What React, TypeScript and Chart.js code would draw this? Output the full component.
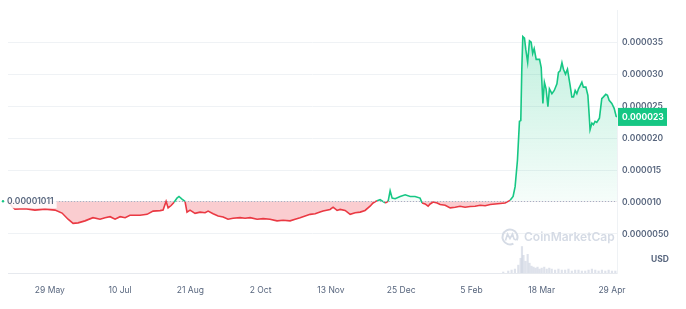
import React, { useEffect, useRef } from 'react';
import { Chart, registerables } from 'chart.js';

Chart.register(...registerables);

// Day offsets from 4 May 2023
const priceDays = [
  0, 2.4, 4.2, 10.2, 16.1, 22.1, 28.1, 32.3, 35.9, 38.9, 41.9, 46.0, 50.8, 55.0, 58.0, 61.0, 64.0, 67.0, 70.0, 72.9,
  78.9, 83.1, 86.7, 90.9, 92.7, 94.5, 95.7, 97.5, 99.3, 101.0, 102.2, 104.0, 105.8, 107.0, 108.8, 111.8, 114.8, 117.8,
  119.6, 122.6, 125.6, 128.6, 131.5, 134.5, 138.7, 141.7, 144.7, 148.9, 152.5, 156.6, 160.8, 164.4, 168.6, 171.6,
  174.6, 177.6, 180.6, 183.6, 186.5, 188.3, 192.5, 194.3, 196.7, 198.5, 201.5, 204.5, 207.5, 210.5, 213.4, 216.4,
  218.2, 220.6, 222.4, 225.4, 227.2, 228.4, 229.6, 231.4, 234.4, 237.4, 240.4, 243.3, 246.3, 247.5, 249.3, 251.1,
  252.3, 254.1, 256.5, 258.3, 261.3, 264.3, 267.3, 270.2, 273.2, 276.2, 279.2, 282.2, 285.2, 288.2, 294.2, 297.1,
  300.1, 301.9, 303.1, 304.5, 305.7, 306.5, 307.1, 307.7, 308.7, 309.5, 310.6, 311.7, 312.7, 313.6, 314.5, 315.7,
  317.7, 318.7, 319.7, 320.6, 321.6, 322.7, 323.6, 325.1, 326.5, 328.1, 329.0, 330.0, 331.1, 332.0, 333.2, 334.4,
  336.0, 337.0, 338.0, 339.0, 340.0, 341.0, 342.0, 343.0, 343.9, 345.4, 346.6, 347.3, 347.9, 349.0, 349.9, 350.9,
  351.9, 353.5, 354.9, 355.9, 357.3, 358.3, 359.3, 360.9, 362.3, 363.5, 364,
];

const prices = [
  10.11e-6, 9.3e-6, 8.88e-6, 8.96e-6, 8.73e-6, 8.88e-6, 8.73e-6, 8.27e-6, 7.31e-6, 6.66e-6, 6.74e-6, 7.05e-6, 7.55e-6,
  7.31e-6, 7.55e-6, 7.7e-6, 7.31e-6, 7.7e-6, 7.55e-6, 7.92e-6,
  7.92e-6, 8.07e-6, 8.58e-6, 8.65e-6, 8.73e-6, 10.11e-6, 9.08e-6, 9.45e-6, 9.95e-6, 10.61e-6, 10.87e-6, 10.46e-6,
  10.11e-6, 8.42e-6, 8.73e-6, 8.23e-6, 8.42e-6, 8.32e-6,
  8.58e-6, 8.16e-6, 7.81e-6, 7.66e-6, 7.31e-6, 7.46e-6, 7.55e-6, 7.46e-6, 7.55e-6, 7.31e-6, 7.4e-6, 7.31e-6, 7.05e-6,
  7.15e-6, 7.05e-6, 7.31e-6,
  7.55e-6, 7.81e-6, 8.07e-6, 8.16e-6, 8.42e-6, 8.58e-6, 8.84e-6, 9.19e-6, 8.68e-6, 8.84e-6, 8.68e-6, 8.07e-6, 8.32e-6,
  8.42e-6, 8.68e-6, 9.34e-6,
  9.85e-6, 10.21e-6, 10.37e-6, 9.85e-6, 10.11e-6, 11.74e-6, 10.61e-6, 10.52e-6, 10.87e-6, 11.13e-6, 10.87e-6,
  10.87e-6, 10.61e-6, 9.85e-6, 9.69e-6, 9.34e-6,
  9.69e-6, 10.0e-6, 9.85e-6, 9.6e-6, 9.5e-6, 9.08e-6, 9.19e-6, 9.34e-6, 9.19e-6, 9.3e-6, 9.34e-6, 9.5e-6, 9.42e-6,
  9.6e-6, 9.76e-6, 9.85e-6,
  10.26e-6, 10.87e-6, 12.4e-6, 16.53e-6, 22.61e-6, 22.73e-6, 30.76e-6, 35.86e-6, 35.61e-6, 33.82e-6, 31.83e-6,
  35.2e-6, 34.97e-6, 33.21e-6, 33.98e-6, 32.29e-6,
  32.29e-6, 31.02e-6, 25.41e-6, 28.73e-6, 27.7e-6, 24.9e-6, 27.7e-6, 26.94e-6, 27.44e-6, 28.47e-6, 30.26e-6, 30.5e-6,
  31.79e-6, 30.76e-6, 30.0e-6, 30.76e-6,
  28.21e-6, 26.43e-6, 26.43e-6, 27.44e-6, 26.94e-6, 27.7e-6, 28.21e-6, 28.73e-6, 27.96e-6, 27.96e-6, 26.68e-6,
  23.88e-6, 21.32e-6, 22.35e-6, 22.09e-6, 22.61e-6,
  22.45e-6, 23.11e-6, 26.17e-6, 26.43e-6, 26.83e-6, 26.68e-6, 25.91e-6, 25.41e-6, 24.64e-6, 23.4e-6, 23.3e-6,
];

const volumeDays = [
  296, 299, 301, 303, 305, 306.4, 307.2, 308.1, 309.3, 310.6, 311.7, 312.9, 314.1, 315.3, 316.5, 317.7, 319, 320.5,
  322, 323.5, 325, 327, 329, 331, 333, 335, 337, 339, 341, 343, 345, 347, 349, 351, 353, 355, 357, 359, 361, 363,
];
const volumes = [
  1, 2, 3, 4, 8, 15, 27, 18, 12, 19, 10, 7, 6, 5, 6, 4, 5, 6, 4, 5, 4, 3, 4, 3, 3, 4, 2, 3, 3, 2, 2, 3, 4, 3, 2, 3,
  2, 3, 2, 2,
];

const baselinePrice = 0.00001011;
const baselineLabel = '0.00001011';
const lastPriceLabel = '0.000023';

const xTickDays = [25, 67, 109, 151, 193, 235, 277, 319, 361];
const xTickLabels = ['29 May', '10 Jul', '21 Aug', '2 Oct', '13 Nov', '25 Dec', '5 Feb', '18 Mar', '29 Apr'];

const yTickValues = [0.000005, 0.00001, 0.000015, 0.00002, 0.000025, 0.00003, 0.000035];
const yTickLabels = ['0.0000050', '0.000010', '0.000015', '0.000020', '0.000025', '0.000030', '0.000035'];

const GREEN = '#16c784';
const RED = '#ea3943';
const FONT = 'Inter, "Noto Sans", sans-serif';

const overlayPlugin = {
  id: 'cmcOverlay',
  afterDatasetsDraw(chart: any) {
    const { ctx, chartArea } = chart;
    const y = chart.scales.y;
    const by = Math.round(y.getPixelForValue(baselinePrice)) + 0.5;
    ctx.save();
    ctx.strokeStyle = '#a6b0c3';
    ctx.lineWidth = 1;
    ctx.setLineDash([1, 2]);
    ctx.beginPath();
    ctx.moveTo(chartArea.left, by);
    ctx.lineTo(chartArea.right, by);
    ctx.stroke();
    ctx.restore();
  },
  afterDraw(chart: any) {
    const { ctx, chartArea } = chart;
    const y = chart.scales.y;
    ctx.save();
    // baseline label
    const by = y.getPixelForValue(baselinePrice);
    ctx.font = `600 8.5px ${FONT}`;
    const tw = ctx.measureText(baselineLabel).width;
    ctx.fillStyle = 'rgba(255,255,255,0.85)';
    ctx.fillRect(chartArea.left - 4, by - 7, tw + 6, 14);
    ctx.fillStyle = '#58667e';
    ctx.textBaseline = 'middle';
    ctx.textAlign = 'left';
    ctx.fillText(baselineLabel, chartArea.left - 1, by);
    ctx.fillStyle = GREEN;
    ctx.beginPath();
    ctx.arc(chartArea.left - 5, by, 1.2, 0, Math.PI * 2);
    ctx.fill();

    // last price tag
    const ly = y.getPixelForValue(prices[prices.length - 1]);
    ctx.fillStyle = GREEN;
    ctx.fillRect(chartArea.right + 1, ly - 9, 49, 18);
    ctx.fillStyle = '#ffffff';
    ctx.font = `700 8.5px ${FONT}`;
    ctx.fillText(lastPriceLabel, chartArea.right + 5, ly + 0.5);

    // USD
    ctx.fillStyle = '#58667e';
    ctx.font = `700 8.5px ${FONT}`;
    ctx.textAlign = 'right';
    ctx.fillText('USD', chartArea.right + 52, chartArea.bottom - 14);

    // watermark
    const cx = chartArea.right - 107;
    const cy = chartArea.bottom - 36;
    ctx.strokeStyle = '#d5dbe5';
    ctx.lineWidth = 2;
    ctx.beginPath();
    ctx.arc(cx, cy, 7.5, Math.PI * 0.35, Math.PI * 2.15);
    ctx.stroke();
    ctx.lineWidth = 1.6;
    ctx.beginPath();
    ctx.moveTo(cx - 4.5, cy + 3.5);
    ctx.lineTo(cx - 2.5, cy - 3);
    ctx.lineTo(cx, cy + 1.5);
    ctx.lineTo(cx + 2.5, cy - 3);
    ctx.lineTo(cx + 4, cy + 2);
    ctx.lineTo(cx + 6, cy + 3);
    ctx.stroke();
    ctx.fillStyle = '#d5dbe5';
    ctx.font = `600 12px ${FONT}`;
    ctx.textAlign = 'left';
    ctx.fillText('CoinMarketCap', cx + 14, cy + 0.5);
    ctx.restore();
  },
};

export default function App() {
  const canvasRef = useRef<HTMLCanvasElement | null>(null);

  useEffect(() => {
    document.body.style.margin = '0';
    const canvas = canvasRef.current;
    if (!canvas) return;

    const chart = new Chart(canvas, {
      data: {
        datasets: [
          {
            type: 'line',
            data: priceDays.map((d, i) => ({ x: d, y: prices[i] })),
            borderWidth: 1.6,
            pointRadius: 0,
            tension: 0,
            yAxisID: 'y',
            order: 0,
            segment: {
              borderColor: (c: any) =>
                (c.p0.parsed.y + c.p1.parsed.y) / 2 >= baselinePrice ? GREEN : RED,
            },
            borderColor: GREEN,
            fill: (c: any) => {
              const chart = c.chart;
              const area = chart.chartArea;
              let above: any = 'rgba(22,199,132,0.15)';
              if (area && chart.scales && chart.scales.y) {
                const g = chart.ctx.createLinearGradient(0, area.top, 0, chart.scales.y.getPixelForValue(baselinePrice));
                g.addColorStop(0, 'rgba(22,199,132,0.3)');
                g.addColorStop(1, 'rgba(22,199,132,0.04)');
                above = g;
              }
              return { value: baselinePrice, above, below: 'rgba(234,57,67,0.25)' };
            },
          } as any,
          {
            type: 'bar',
            data: volumeDays.map((d, i) => ({ x: d, y: volumes[i] })),
            backgroundColor: 'rgba(200,207,222,0.6)',
            barThickness: 1.5,
            yAxisID: 'y2',
            order: 1,
          } as any,
        ],
      },
      options: {
        animation: false,
        responsive: true,
        maintainAspectRatio: false,
        layout: { padding: { top: 4, left: 8, right: 0, bottom: 0 } },
        plugins: { legend: { display: false }, tooltip: { enabled: false } },
        scales: {
          x: {
            type: 'linear',
            min: 0,
            max: 364,
            offset: false,
            grid: { display: false, drawTicks: false, offset: false },
            border: { display: true, color: '#e6e9ee' },
            afterBuildTicks: (s: any) => {
              s.ticks = xTickDays.map((v) => ({ value: v }));
            },
            afterFit: (s: any) => {
              s.height = 36;
            },
            ticks: {
              autoSkip: false,
              maxRotation: 0,
              padding: 12,
              color: '#58667e',
              font: { family: FONT, size: 8.5 },
              callback: (_v: any, i: number) => xTickLabels[i],
            },
          },
          y: {
            type: 'linear',
            position: 'right',
            min: -0.0000011,
            max: 0.00004,
            grid: { color: '#eff2f5', drawTicks: false },
            border: { display: true, color: '#eff2f5' },
            afterBuildTicks: (s: any) => {
              s.ticks = yTickValues.map((v) => ({ value: v }));
            },
            afterFit: (s: any) => {
              s.width = 69;
            },
            ticks: {
              padding: 5,
              color: '#58667e',
              font: { family: FONT, size: 8.5, weight: '600' },
              callback: (_v: any, i: number) => yTickLabels[i],
            },
          },
          y2: {
            type: 'linear',
            display: false,
            min: 0,
            max: 268,
          },
        },
      },
      plugins: [overlayPlugin],
    } as any);

    return () => chart.destroy();
  }, []);

  return (
    <div style={{ width: 686, height: 309, position: 'relative' }}>
      <canvas ref={canvasRef} />
    </div>
  );
}
